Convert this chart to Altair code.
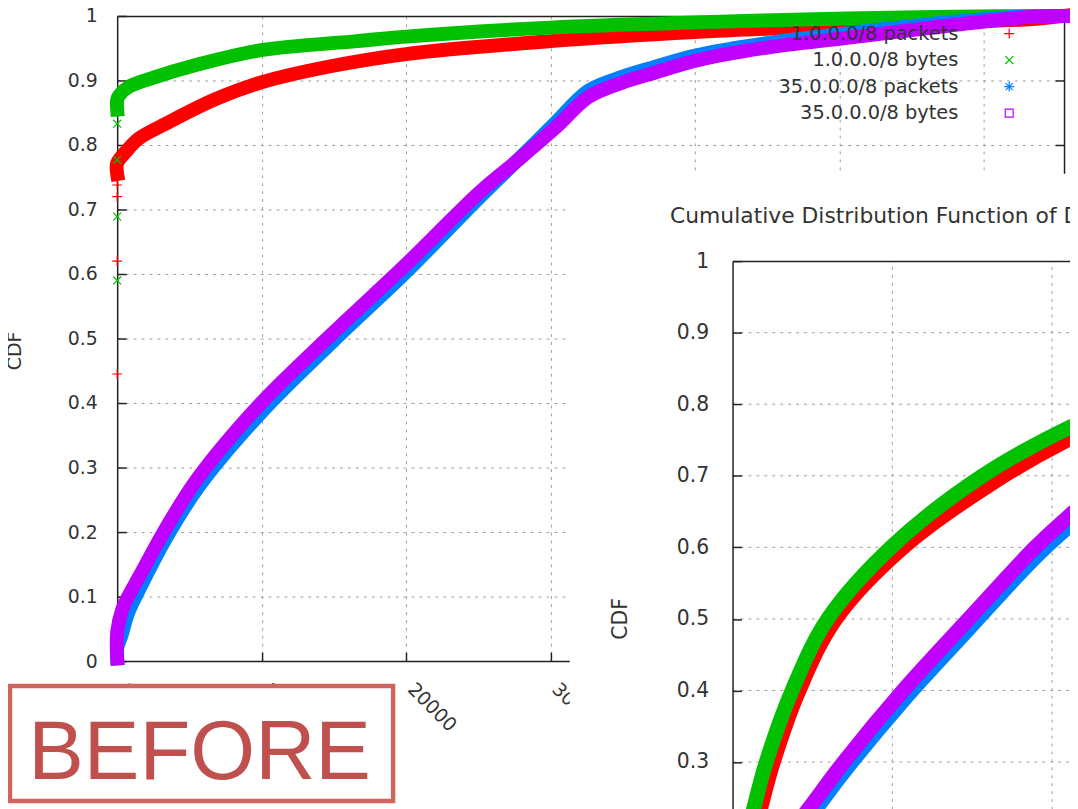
import altair as alt
import pandas as pd

# ---------------- data ----------------
series_names = ["1.0.0.0/8 packets", "1.0.0.0/8 bytes", "35.0.0.0/8 packets", "35.0.0.0/8 bytes"]
series_colors = ["#ff0000", "#00c000", "#0080ff", "#c000ff"]
series_shapes = [
    "M-1,0L1,0M0,-1L0,1",
    "M-0.8,-0.8L0.8,0.8M-0.8,0.8L0.8,-0.8",
    "M-1,0L1,0M0,-1L0,1M-0.7,-0.7L0.7,0.7M-0.7,0.7L0.7,-0.7",
    "M-0.8,-0.8L0.8,-0.8L0.8,0.8L-0.8,0.8Z",
]

# main chart (port number 0..65535)
red1_x = [0, 0, 620, 1500, 3370, 6800, 9960, 14770, 20000, 30000, 40000, 50500, 57000, 63300, 65535]
red1_y = [0.755, 0.772, 0.79, 0.81, 0.833, 0.871, 0.897, 0.922, 0.941, 0.961, 0.975, 0.985, 0.99, 0.995, 1.0]

green1_x = [0, 0, 140, 800, 2200, 5630, 9960, 16600, 20000, 30000, 40000, 50500, 58000, 65535]
green1_y = [0.855, 0.87, 0.877, 0.89, 0.902, 0.925, 0.947, 0.961, 0.968, 0.982, 0.99, 0.996, 0.999, 1.0]

blue1_x = [0, 0, 300, 760, 1500, 3370, 5630, 9960, 15000, 20000, 25000, 27600, 30400, 32600, 35000, 37200, 40100, 45000, 50500, 57900, 62500, 65535]
blue1_y = [0.004, 0.02, 0.04, 0.075, 0.11, 0.19, 0.27, 0.385, 0.497, 0.603, 0.717, 0.774, 0.836, 0.884, 0.906, 0.921, 0.939, 0.958, 0.973, 0.991, 0.999, 1.0]

purple1_x = [0, 0, 350, 760, 1500, 3370, 5630, 9960, 15000, 20000, 25000, 27600, 30400, 32600, 35000, 37200, 40100, 45000, 50500, 57900, 63500, 65535]
purple1_y = [0.004, 0.045, 0.08, 0.10, 0.13, 0.206, 0.285, 0.40, 0.51, 0.615, 0.725, 0.774, 0.828, 0.874, 0.897, 0.912, 0.931, 0.951, 0.966, 0.986, 0.999, 1.0]

scatter_red_y = [0.445, 0.62, 0.72, 0.738]
scatter_green_y = [0.59, 0.689, 0.777, 0.833]

x1_ticks = [0, 10000, 20000, 30000, 40000, 50000, 60000]
y_ticks = [0, 0.1, 0.2, 0.3, 0.4, 0.5, 0.6, 0.7, 0.8, 0.9, 1]

# second (overlapping) chart
green2_x = [75, 137, 211, 373, 596, 1006, 1565, 2112, 2559]
green2_y = [0.183, 0.239, 0.30, 0.40, 0.50, 0.603, 0.70, 0.768, 0.81]
red2_x = [118, 180, 255, 416, 646, 1068, 1627, 2112, 2559]
red2_y = [0.183, 0.239, 0.30, 0.40, 0.50, 0.60, 0.69, 0.752, 0.796]
purple2_x = [323, 491, 696, 1068, 1478, 1894, 2112, 2559]
purple2_y = [0.189, 0.239, 0.30, 0.40, 0.50, 0.60, 0.645, 0.73]
blue2_x = [323, 491, 696, 1068, 1478, 1894, 2112, 2559]
blue2_y = [0.175, 0.225, 0.286, 0.386, 0.486, 0.586, 0.631, 0.716]
x2_grid = [1000, 2000, 3000, 4000]
y2_grid = [0.1, 0.2, 0.3, 0.4, 0.5, 0.6, 0.7, 0.8, 0.9]

title2 = "Cumulative Distribution Function of Destination Ports"
stamp = "BEFORE"

# ---------------- styling ----------------
FONT = "DejaVu Sans"
TXT = "#333333"
AXC = "#222222"
GRID = "#a0a0a0"

X1 = alt.Scale(domain=[0, 65535], nice=False, zero=False)
Y1 = alt.Scale(domain=[0, 1], nice=False, zero=False)
X2 = alt.Scale(domain=[0, 5000], range=[620, 1425], nice=False, zero=False)
Y2 = alt.Scale(domain=[0, 1], range=[968, 247], nice=False, zero=False)


def ldf(xs, ys):
    return pd.DataFrame({"x": xs, "y": ys, "i": list(range(len(xs)))})


def line(df, color, xs, ys, xaxis=None, yaxis=None, width=14):
    return alt.Chart(df).mark_line(
        color=color, strokeWidth=width, strokeCap="square", strokeJoin="round",
        interpolate="catmull-rom"
    ).encode(
        x=alt.X("x:Q", scale=xs, axis=xaxis),
        y=alt.Y("y:Q", scale=ys, axis=yaxis),
        order=alt.Order("i:Q"),
    )


# axes of main chart
ax1_bottom = alt.Axis(orient="bottom", values=x1_ticks, format="d", labelAngle=45,
                      labelAlign="left", labelBaseline="alphabetic", labelPadding=29,
                      labelFont=FONT, labelFontSize=19, labelColor=TXT,
                      labelOverlap=False, labelFlush=False,
                      ticks=False, tickSize=0, grid=True, gridColor=GRID,
                      gridDash=[3, 5], gridWidth=1, domain=True, domainColor=AXC,
                      domainWidth=1.5, title=None)
ax1_left = alt.Axis(orient="left", values=y_ticks, format="~g", labelPadding=20,
                    labelFont=FONT, labelFontSize=19, labelColor=TXT,
                    labelOverlap=False, labelFlush=False,
                    ticks=False, tickSize=0, grid=True, gridColor=GRID,
                    gridDash=[3, 5], gridWidth=1, domain=True, domainColor=AXC,
                    domainWidth=1.5, title="CDF", titleX=-103, titleY=337,
                    titleAngle=270, titleAlign="center", titleBaseline="middle",
                    titleFont=FONT, titleFontSize=19, titleFontWeight="normal",
                    titleColor=TXT)
ax1_bottom_ticks = alt.Axis(orient="top", offset=-650, values=x1_ticks, labels=False,
                            ticks=True, tickSize=9, tickColor=AXC, tickWidth=1.5,
                            domain=False, grid=False, title=None)
ax1_left_ticks = alt.Axis(orient="right", offset=-954, values=y_ticks, labels=False,
                          ticks=True, tickSize=9, tickColor=AXC, tickWidth=1.5,
                          domain=False, grid=False, title=None)
ax1_top_border = alt.Axis(orient="bottom", offset=-650, values=x1_ticks, labels=False,
                          ticks=False, tickSize=0, domain=True, domainColor=AXC,
                          domainWidth=1.5, grid=False, title=None)
ax1_right_border = alt.Axis(orient="left", offset=-954, values=y_ticks, labels=False,
                            ticks=True, tickSize=9, tickColor=AXC, tickWidth=1.5,
                            domain=True, domainColor=AXC, domainWidth=1.5,
                            grid=False, title=None)

# axes of second chart
ax2_left = alt.Axis(orient="left", offset=-620, values=y_ticks, format="~g",
                    labelPadding=24, labelFont=FONT, labelFontSize=20.5,
                    labelColor=TXT, labelOverlap=False, labelFlush=False,
                    ticks=False, tickSize=0, grid=False, domain=True,
                    domainColor=AXC, domainWidth=1.5, title="CDF", titleX=-113,
                    titleY=607, titleAngle=270, titleAlign="center",
                    titleBaseline="middle", titleFont=FONT, titleFontSize=20.5,
                    titleFontWeight="normal", titleColor=TXT, zindex=1)
ax2_top = alt.Axis(orient="top", offset=-247, values=x2_grid, labels=False,
                   ticks=False, tickSize=0, domain=True, domainColor=AXC,
                   domainWidth=1.5, grid=False, title=None, zindex=1)
ax2_left_ticks = alt.Axis(orient="right", offset=-334, values=y_ticks, labels=False,
                          ticks=True, tickSize=9, tickColor=AXC, tickWidth=1.5,
                          domain=False, grid=False, title=None, zindex=1)

# ---------------- layers ----------------
red1 = line(ldf(red1_x, red1_y), series_colors[0], X1, Y1, ax1_bottom, ax1_left)
green1 = line(ldf(green1_x, green1_y), series_colors[1], X1, Y1, ax1_bottom_ticks, ax1_left_ticks)
blue1 = line(ldf(blue1_x, blue1_y), series_colors[2], X1, Y1, ax1_top_border, ax1_right_border)
purple1 = line(ldf(purple1_x, purple1_y), series_colors[3], X1, Y1)

scatter = pd.DataFrame({
    "x": [0] * (len(scatter_red_y) + len(scatter_green_y)),
    "y": scatter_red_y + scatter_green_y,
    "s": [series_names[0]] * len(scatter_red_y) + [series_names[1]] * len(scatter_green_y),
})
COLOR_SCALE = alt.Scale(domain=series_names, range=series_colors)
SHAPE_SCALE = alt.Scale(domain=series_names, range=series_shapes)

# gnuplot-style key: text on the left, sample symbol on the right
leg_symbols = alt.Legend(orient="none", legendX=889, legendY=8, title=None,
                         labelOpacity=0, labelFont=FONT, labelFontSize=19.5,
                         symbolSize=100, symbolStrokeWidth=1.2, rowPadding=5.7,
                         padding=0)
leg_labels = alt.Legend(orient="none", legendX=824, legendY=8, title=None,
                        labelAlign="right", symbolOpacity=0, labelFont=FONT,
                        labelFontSize=19.5, labelColor=TXT, labelLimit=400,
                        symbolSize=100, symbolStrokeWidth=1.2, rowPadding=5.7,
                        padding=0)
points1 = alt.Chart(scatter).mark_point(filled=False, size=100, strokeWidth=1.2, opacity=1).encode(
    x=alt.X("x:Q", scale=X1, axis=None),
    y=alt.Y("y:Q", scale=Y1, axis=None),
    color=alt.Color("s:N", scale=COLOR_SCALE, legend=leg_symbols),
    shape=alt.Shape("s:N", scale=SHAPE_SCALE, legend=leg_symbols),
)
key_text = alt.Chart(scatter).mark_point(filled=False, size=100, opacity=0).encode(
    x=alt.X("x:Q", scale=X1, axis=None),
    y=alt.Y("y:Q", scale=Y1, axis=None),
    color=alt.Color("s:N", scale=COLOR_SCALE, legend=leg_labels),
)

one = pd.DataFrame({"k": [0]})
panel2 = alt.Chart(one).mark_rect(color="white").encode(
    x=alt.value(456), x2=alt.value(1100), y=alt.value(159), y2=alt.value(900))

grid2h = alt.Chart(pd.DataFrame({"v": y2_grid, "a": [0] * len(y2_grid), "b": [5000] * len(y2_grid)})).mark_rule(
    color=GRID, strokeDash=[3, 5], strokeWidth=1).encode(
    y=alt.Y("v:Q", scale=Y2, axis=None),
    x=alt.X("a:Q", scale=X2, axis=None), x2="b:Q")
grid2v = alt.Chart(pd.DataFrame({"v": x2_grid, "a": [0.0] * len(x2_grid), "b": [1.0] * len(x2_grid)})).mark_rule(
    color=GRID, strokeDash=[3, 5], strokeWidth=1).encode(
    x=alt.X("v:Q", scale=X2, axis=None),
    y=alt.Y("a:Q", scale=Y2, axis=None), y2="b:Q")

red2 = line(ldf(red2_x, red2_y), series_colors[0], X2, Y2, ax2_top, ax2_left, width=15)
green2 = line(ldf(green2_x, green2_y), series_colors[1], X2, Y2, None, ax2_left_ticks, width=15)
blue2 = line(ldf(blue2_x, blue2_y), series_colors[2], X2, Y2, width=15)
purple2 = line(ldf(purple2_x, purple2_y), series_colors[3], X2, Y2, width=15)

title2_mark = alt.Chart(one).mark_text(align="left", baseline="alphabetic", font=FONT,
                                       fontSize=22, color=TXT).encode(
    x=alt.value(557), y=alt.value(209), text=alt.value(title2))

stamp_box = alt.Chart(one).mark_rect(fill="white", stroke="#d0645e", strokeWidth=4.5).encode(
    x=alt.value(-108), x2=alt.value(278), y=alt.value(675), y2=alt.value(791))
stamp_text = alt.Chart(one).mark_text(align="center", baseline="alphabetic",
                                      font="Liberation Sans", fontSize=84,
                                      color="#c0504d").encode(
    x=alt.value(83), y=alt.value(769), text=alt.value(stamp))

chart = alt.layer(
    red1, green1, blue1, purple1, points1, key_text,
    panel2, grid2h, grid2v, red2, green2, blue2, purple2, title2_mark,
    stamp_box, stamp_text,
).resolve_scale(
    x="independent", y="independent", color="independent", shape="independent"
).properties(
    width=954, height=650,
    padding={"left": 110, "top": 5, "right": 6, "bottom": 146},
    autosize=alt.AutoSizeParams(type="none"),
    background="white",
).configure_view(stroke="transparent")

chart.save("out.html", embed_options={"renderer": "svg", "actions": False})
